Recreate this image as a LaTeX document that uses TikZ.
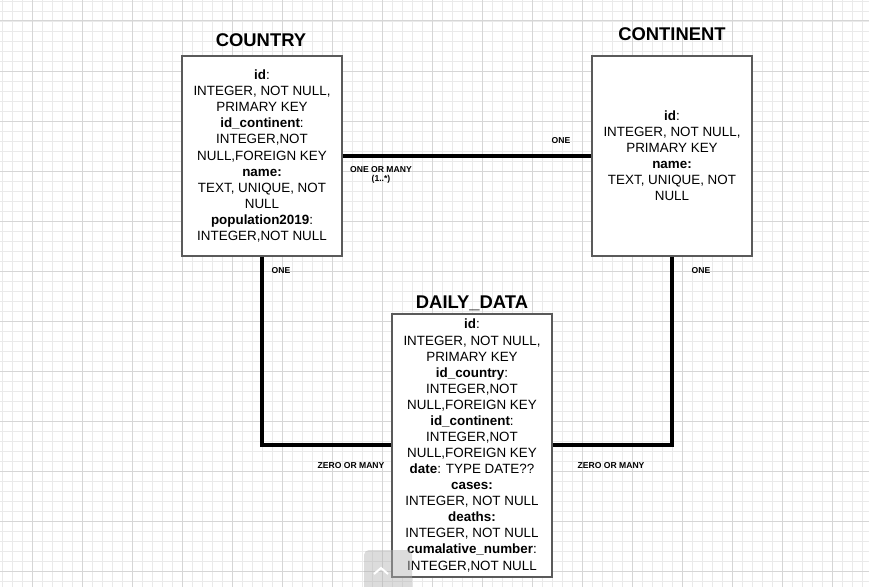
\documentclass[tikz,border=0pt]{standalone}
\usepackage{fontspec}
\setmainfont{Liberation Sans}
\usetikzlibrary{positioning}
\definecolor{minorgray}{HTML}{EAEAEA}
\definecolor{majorgray}{HTML}{D6D6D6}
\definecolor{boxgray}{HTML}{5A5A5A}
\newcommand\tablefont{\fontsize{13.4}{16.07}\selectfont}
\newcommand\titlefont{\fontsize{18.4}{20}\selectfont\bfseries}
\newcommand\relfont{\fontsize{8.6}{9.2}\selectfont\bfseries}

\begin{document}
\begin{tikzpicture}[x=1pt, y=-1pt,
    table/.style = {draw=boxgray, line width=1.2pt, fill=white, align=center, minimum width=160pt, inner sep=0pt, font=\tablefont},
    title/.style = {font=\titlefont},
    rel/.style = {line width=4pt},
    card/.style = {align=center, font=\relfont, inner sep=0pt}]
    \useasboundingbox (0,0) rectangle (869,586);
    \clip (0,0) rectangle (869,586);
    \fill[white] (0,0) rectangle (869,586);

    %grid
    \begin{scope}[shift={(2,1)}]
        \draw[minorgray, line width=0.8pt, step=10pt] (-10,-10) grid (870,590);
    \end{scope}
    \begin{scope}[shift={(32,21)}]
        \draw[majorgray, line width=1pt, step=50pt] (-50,-50) grid (870,600);
    \end{scope}

    %tables
    \node at (262,156) [table, minimum height=200pt] (country) {\textbf{id}:\\INTEGER, NOT NULL,\\PRIMARY KEY\\\textbf{id\_continent}:\\INTEGER,NOT\\NULL,FOREIGN KEY\\\textbf{name:}\\TEXT, UNIQUE, NOT\\NULL\\\textbf{population2019}:\\INTEGER,NOT NULL};
    \node at (672,156) [table, minimum height=200pt] (continent) {\textbf{id}:\\INTEGER, NOT NULL,\\PRIMARY KEY\\\textbf{name:}\\TEXT, UNIQUE, NOT\\NULL};
    \node at (472,445.5) [table, minimum height=263pt] (daily) {\textbf{id}:\\INTEGER, NOT NULL,\\PRIMARY KEY\\\textbf{id\_country}:\\INTEGER,NOT\\NULL,FOREIGN KEY\\\textbf{id\_continent}:\\INTEGER,NOT\\NULL,FOREIGN KEY\\\textbf{date}: TYPE DATE??\\\textbf{cases:}\\INTEGER, NOT NULL\\\textbf{deaths:}\\INTEGER, NOT NULL\\\textbf{cumalative\_number}:\\INTEGER,NOT NULL};

    \node at (261,40) [title] (countrytitle) {COUNTRY};
    \node at (672,34) [title] (continenttitle) {CONTINENT};
    \node at (472,303) [title] (dailytitle) {DAILY\_DATA};

    %relations
    \draw[rel] (country.east |- 0,155.5) -- (continent.west |- 0,155.5);
    \draw[rel] (country.south -| 262,0) |- (daily.west |- 0,444.5);
    \draw[rel] (continent.south -| 672,0) |- (daily.east |- 0,444.5);

    %cardinalities
    \node at (561,141) [card] (onecontinent) {ONE};
    \node at (381,174.5) [card] (onemany) {ONE OR MANY\\(1..*)};
    \node at (281,271) [card] (onecountry) {ONE};
    \node at (701,271) [card] (onecontinentb) {ONE};
    \node at (351,466) [card] (zeromanyl) {ZERO OR MANY};
    \node at (611,466) [card] (zeromanyr) {ZERO OR MANY};

    %scroll button
    \fill[black!30, opacity=0.45, rounded corners=5pt] (364,550) rectangle (412,600);
    \draw[white, line width=2pt] (374,574) -- (381,568) -- (388,574);
\end{tikzpicture}
\end{document}
